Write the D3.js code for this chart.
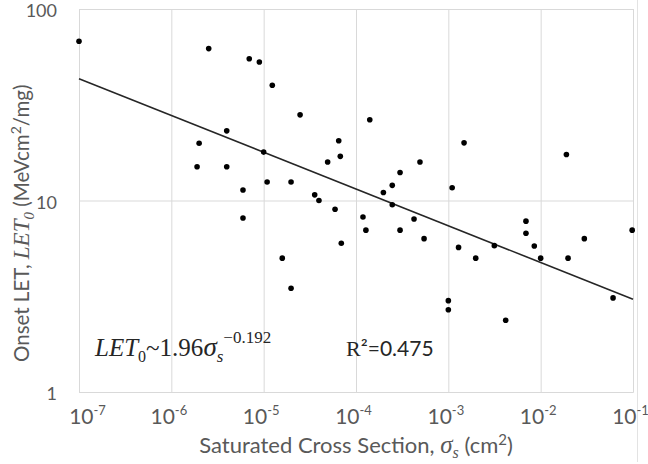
<!DOCTYPE html>
<html><head><meta charset="utf-8">
<script src="https://cdn.jsdelivr.net/npm/d3@7"></script>
<style>
html,body{margin:0;padding:0;background:#fff;}
svg{display:block;}
</style></head>
<body>
<svg id="chart" width="648" height="464"></svg>
<script>
// ---- data ----
const xTickValues = [1e-7, 1e-6, 1e-5, 1e-4, 1e-3, 1e-2, 1e-1];
const xTickExponents = ["-7", "-6", "-5", "-4", "-3", "-2", "-1"];
const yTickValues = [1, 10, 100];
const yTickLabels = ["1", "10", "100"];
const sigmaS = [1.0e-7, 2.54e-6, 6.98e-6, 8.98e-6, 1.24e-5, 2.48e-5, 1.41e-4, 3.98e-6, 6.5e-5, 2.0e-6,
  1.48e-3, 1.0e-5, 6.76e-5, 1.9e-2, 4.93e-5, 4.93e-4, 1.9e-6, 3.98e-6, 3.0e-4, 1.09e-5,
  1.98e-5, 5.97e-6, 2.47e-4, 1.98e-4, 3.57e-5, 3.97e-5, 1.1e-3, 2.47e-4, 5.93e-5, 5.97e-6,
  1.19e-4, 4.25e-4, 6.93e-3, 1.28e-4, 3.0e-4, 0.098, 6.93e-3, 2.97e-2, 5.46e-4, 1.59e-5,
  6.93e-5, 1.29e-3, 3.15e-3, 8.53e-3, 1.0e-2, 1.98e-3, 1.98e-2, 1.98e-5, 1.0e-3, 1.0e-3,
  4.18e-3, 6.08e-2];
const let0 = [67.8, 62.1, 55.0, 52.9, 40.0, 28.0, 26.4, 23.1, 20.5, 19.9,
  20.0, 17.9, 17.0, 17.4, 15.9, 15.9, 15.0, 15.0, 14.0, 12.5,
  12.5, 11.35, 12.0, 11.0, 10.7, 10.0, 11.66, 9.5, 9.0, 8.1,
  8.2, 8.0, 7.8, 7.0, 7.0, 7.0, 6.74, 6.32, 6.32, 5.0,
  5.98, 5.69, 5.81, 5.79, 5.0, 5.0, 5.0, 3.48, 3.0, 2.69,
  2.37, 3.1];
const fitCoef = 1.96;
const fitExp = -0.192;
const rSquared = "0.475";

// ---- layout ----
const svg = d3.select("#chart");
const W = 648, H = 464;
const m = {left: 79, right: 633, top: 9, bottom: 392};
const sans = "Lato, 'Open Sans', sans-serif";
const serif = "'Liberation Serif', 'DejaVu Serif', serif";
const grey = "#595959";

svg.append("rect").attr("width", W).attr("height", H).attr("fill", "#fff");

const x = d3.scaleLog().domain([1e-7, 1e-1]).range([m.left, m.right]);
const y = d3.scaleLog().domain([1, 100]).range([m.bottom, m.top]);

// outer chart border (right side)
svg.append("line").attr("x1", 637.5).attr("x2", 637.5).attr("y1", 0).attr("y2", 462)
  .attr("stroke", "#e3e3e3").attr("stroke-width", 1);

// gridlines via axes
const gx = svg.append("g").attr("transform", `translate(0,${m.bottom})`)
  .call(d3.axisBottom(x).tickValues(xTickValues).tickSize(-(m.bottom - m.top)).tickFormat(""));
const gy = svg.append("g").attr("transform", `translate(${m.left},0)`)
  .call(d3.axisLeft(y).tickValues(yTickValues).tickSize(-(m.right - m.left)).tickFormat(""));
[gx, gy].forEach(g => {
  g.select(".domain").attr("stroke", "#d9d9d9");
  g.selectAll(".tick line").attr("stroke", "#d9d9d9").attr("stroke-width", 1);
});

// y tick labels
gy.selectAll(".tick").append("text")
  .attr("x", -22).attr("dy", "0.42em")
  .attr("text-anchor", "end")
  .attr("fill", grey).attr("font-family", sans).attr("font-size", 18)
  .text((d, i) => yTickLabels[i]);

// x tick labels: 10^exp
gx.selectAll(".tick").each(function(d, i) {
  const t = d3.select(this).append("text")
    .attr("x", i === 0 ? 8 : -3).attr("y", 32)
    .attr("text-anchor", "middle")
    .attr("fill", grey).attr("font-family", sans).attr("font-size", 21);
  t.append("tspan").text("10");
  t.append("tspan").attr("font-size", 13).attr("dy", -9).text(xTickExponents[i]);
});

// trend line
const fitX = x.domain();
const fitLine = d3.line().x(d => x(d)).y(d => y(fitCoef * Math.pow(d, fitExp)));
svg.append("path").datum(fitX).attr("d", fitLine)
  .attr("fill", "none").attr("stroke", "#262626").attr("stroke-width", 1.6);

// points
svg.append("g").selectAll("circle").data(sigmaS.map((s, i) => [s, let0[i]]))
  .join("circle")
  .attr("cx", d => x(d[0])).attr("cy", d => y(d[1])).attr("r", 2.8)
  .attr("fill", "#000");

// x axis title
const xt = svg.append("text").attr("x", (m.left + m.right) / 2).attr("y", 453)
  .attr("text-anchor", "middle").attr("fill", grey).attr("font-family", sans).attr("font-size", 22);
xt.append("tspan").text("Saturated Cross Section, ");
xt.append("tspan").attr("font-family", serif).attr("font-style", "italic").attr("font-size", 25).text("σ");
xt.append("tspan").attr("font-family", serif).attr("font-style", "italic").attr("font-size", 16).attr("dy", 5).text("s");
xt.append("tspan").attr("dy", -5).text(" (cm");
xt.append("tspan").attr("font-size", 15).attr("dy", -8).text("2");
xt.append("tspan").attr("dy", 8).text(")");

// y axis title
const yt = svg.append("text").attr("transform", "translate(29,362) rotate(-90)")
  .attr("text-anchor", "start").attr("fill", grey).attr("font-family", sans).attr("font-size", 20.5);
yt.append("tspan").text("Onset LET, ");
yt.append("tspan").attr("font-family", serif).attr("font-style", "italic").attr("font-size", 23).text("LET");
yt.append("tspan").attr("font-family", serif).attr("font-style", "italic").attr("font-size", 15).attr("dy", 5).text("0");
yt.append("tspan").attr("dy", -5).text(" (MeVcm");
yt.append("tspan").attr("font-size", 14).attr("dy", -8).text("2");
yt.append("tspan").attr("dy", 8).text("/mg)");

// fit equation annotation
const eq = svg.append("text").attr("x", 95).attr("y", 356)
  .attr("fill", "#262626").attr("font-family", serif).attr("font-size", 25);
eq.append("tspan").attr("font-style", "italic").text("LET");
eq.append("tspan").attr("font-size", 16).attr("dy", 6).text("0");
eq.append("tspan").attr("dy", -6).text("~" + fitCoef.toFixed(2));
eq.append("tspan").attr("font-style", "italic").attr("font-size", 27).text("σ");
eq.append("tspan").attr("font-style", "italic").attr("font-size", 17).attr("dy", 6).text("s");
eq.append("tspan").attr("font-size", 17).attr("dy", -19).text("−" + Math.abs(fitExp).toFixed(3));

const r2 = svg.append("text").attr("x", 346).attr("y", 356)
  .attr("fill", "#262626").attr("font-family", serif).attr("font-size", 22);
r2.append("tspan").text("R");
r2.append("tspan").attr("font-family", sans).attr("font-size", 21).text("²=" + rSquared);
</script>
</body></html>
